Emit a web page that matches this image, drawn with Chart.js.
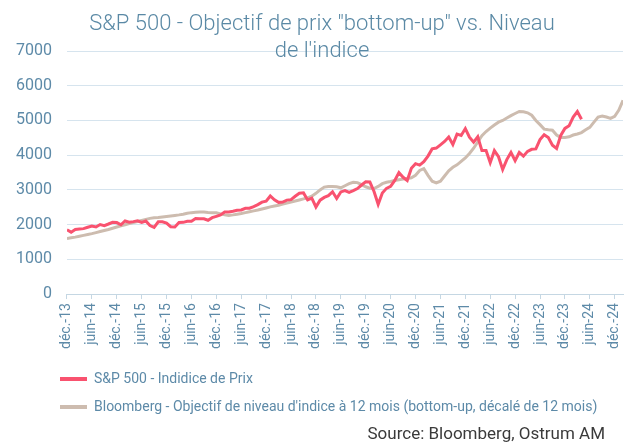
<!DOCTYPE html>
<html lang="fr">
<head>
<meta charset="utf-8">
<title>S&amp;P 500 - Objectif de prix bottom-up</title>
<script src="https://cdn.jsdelivr.net/npm/chart.js@4/dist/chart.umd.min.js"></script>
<style>
  html, body { margin: 0; padding: 0; background: #fff; }
  .wrap { position: relative; width: 624px; height: 443px; overflow: hidden; }
  .title {
    position: absolute; left: 0; top: 9px; width: 644px;
    text-align: center; font-family: Roboto, sans-serif; font-size: 22px;
    font-weight: 300; line-height: 27px; color: #5A89A5; pointer-events: none;
  }
  .source {
    position: absolute; right: 19px; top: 423px;
    font-family: Roboto, sans-serif; font-size: 17px; line-height: 20px;
    color: #3a3a3a;
  }
</style>
</head>
<body>
<div class="wrap">
  <canvas id="spxChart" width="624" height="443"></canvas>
  <div class="title">S&amp;P 500 - Objectif de prix "bottom-up" vs. Niveau<br>de l'indice</div>
  <div class="source">Source: Bloomberg, Ostrum AM</div>
</div>

<script>
// tick labels, one every 6 months starting déc.-13 (x index 0)
const tickLabels = ['déc.-13', 'juin-14', 'déc.-14', 'juin-15', 'déc.-15', 'juin-16',
  'déc.-16', 'juin-17', 'déc.-17', 'juin-18', 'déc.-18', 'juin-19', 'déc.-19',
  'juin-20', 'déc.-20', 'juin-21', 'déc.-21', 'juin-22', 'déc.-22', 'juin-23',
  'déc.-23', 'juin-24', 'déc.-24'];

const seriesNames = ['S&P 500 - Indidice de Prix',
  "Bloomberg - Objectif de niveau d'indice à 12 mois (bottom-up, décalé de 12 mois)"];

// S&P 500, monthly, déc.-13 -> avr.-24
const spx = [1848,
  1783, 1859, 1872, 1884, 1924, 1960, 1931, 2003, 1972, 2018, 2068, 2059,
  1995, 2105, 2068, 2086, 2107, 2063, 2104, 1972, 1920, 2079, 2080, 2044,
  1940, 1932, 2060, 2065, 2097, 2099, 2174, 2171, 2168, 2126, 2199, 2239,
  2279, 2364, 2363, 2384, 2412, 2423, 2470, 2472, 2519, 2575, 2648, 2674,
  2824, 2714, 2641, 2648, 2705, 2718, 2816, 2902, 2914, 2712, 2760, 2507,
  2704, 2784, 2834, 2946, 2752, 2942, 2980, 2926, 2977, 3038, 3141, 3231,
  3226, 2954, 2585, 2912, 3044, 3100, 3271, 3500, 3363, 3270, 3622, 3756,
  3714, 3811, 3973, 4181, 4204, 4298, 4395, 4523, 4308, 4605, 4567, 4766,
  4516, 4374, 4530, 4132, 4132, 3785, 4130, 3955, 3586, 3872, 4080, 3840,
  4077, 3970, 4109, 4169, 4180, 4450, 4589, 4508, 4288, 4194, 4568, 4770,
  4846, 5096, 5254, 5036];

// bottom-up 12m target (shifted 12 months), monthly, déc.-13 -> févr.-25
const target = [1600,
  1620, 1640, 1665, 1690, 1715, 1740, 1770, 1800, 1830, 1860, 1895, 1930,
  1965, 1995, 2030, 2060, 2090, 2120, 2150, 2180, 2195, 2205, 2220, 2235,
  2250, 2265, 2280, 2300, 2325, 2345, 2355, 2365, 2360, 2350, 2345, 2340,
  2310, 2280, 2265, 2280, 2300, 2320, 2345, 2370, 2395, 2420, 2450, 2480,
  2510, 2535, 2560, 2590, 2620, 2650, 2680, 2710, 2740, 2770, 2820, 2900,
  3000, 3080, 3100, 3100, 3090, 3060, 3120, 3180, 3220, 3210, 3150, 3090,
  3050, 3040, 3100, 3180, 3220, 3240, 3270, 3290, 3310, 3330, 3350, 3420,
  3560, 3610, 3420, 3250, 3200, 3250, 3400, 3550, 3650, 3720, 3820, 3920,
  4050, 4200, 4380, 4560, 4680, 4780, 4870, 4950, 5000, 5070, 5140, 5200,
  5260, 5250, 5220, 5150, 5000, 4880, 4750, 4730, 4720, 4580, 4510, 4510,
  4530, 4580, 4610, 4650, 4730, 4800, 4950, 5100, 5130, 5100, 5060, 5120,
  5300, 5580];

const yTicks = [0, 1000, 2000, 3000, 4000, 5000, 6000, 7000];

const toPoints = arr => arr.map((v, i) => ({ x: i, y: v }));

// push the legend to where the original sits, below the axis labels
const legendPlace = {
  id: 'legendPlace',
  afterLayout(chart) {
    if (!chart.legend) return;
    chart.legend.left = 46;
    chart.legend.top = 358;
  }
};

const blue = '#5D8AA8';

new Chart(document.getElementById('spxChart'), {
  type: 'line',
  data: {
    datasets: [{
      label: seriesNames[0],
      data: toPoints(spx),
      borderColor: '#F9526F',
      backgroundColor: '#F9526F',
      borderWidth: 3,
      pointRadius: 0,
      tension: 0
    }, {
      label: seriesNames[1],
      data: toPoints(target),
      borderColor: '#CDBCAF',
      backgroundColor: '#CDBCAF',
      borderWidth: 3,
      pointRadius: 0,
      tension: 0
    }]
  },
  options: {
    responsive: false,
    animation: false,
    layout: { padding: { left: 1, right: 1, top: 51, bottom: 24 } },
    scales: {
      x: {
        type: 'linear',
        min: 0,
        max: target.length - 1,
        border: { display: true, color: '#C5D7E3' },
        grid: { drawOnChartArea: false, drawTicks: true, tickLength: 5, color: '#C5D7E3' },
        // rotated labels make chart.js reserve room on the right; the lines run to the edge here
        afterFit: axis => { axis.paddingLeft = 0; axis.paddingRight = 0; },
        ticks: {
          stepSize: 6,
          includeBounds: false,
          autoSkip: false,
          minRotation: 90,
          maxRotation: 90,
          padding: 4,
          color: blue,
          font: { family: 'Roboto', size: 14 },
          callback: v => tickLabels[v / 6]
        }
      },
      y: {
        min: 0,
        max: 7000,
        border: { display: false },
        grid: { color: '#D6E4EE', drawTicks: false },
        afterBuildTicks: axis => { axis.ticks = yTicks.map(v => ({ value: v })); },
        ticks: {
          padding: 15,
          color: blue,
          font: { family: 'Roboto', size: 16 },
          callback: v => String(v)
        }
      }
    },
    plugins: {
      legend: {
        position: 'bottom',
        align: 'start',
        labels: {
          boxWidth: 27,
          boxHeight: 4,
          padding: 14,
          color: blue,
          font: { family: 'Roboto', size: 14 },
          generateLabels: chart => chart.data.datasets.map((ds, i) => ({
            text: ds.label,
            fillStyle: ds.borderColor,
            strokeStyle: ds.borderColor,
            lineWidth: 0,
            hidden: false,
            datasetIndex: i,
            fontColor: blue
          }))
        }
      },
      tooltip: { enabled: false },
      title: { display: false }
    }
  },
  plugins: [legendPlace]
});
</script>
</body>
</html>
